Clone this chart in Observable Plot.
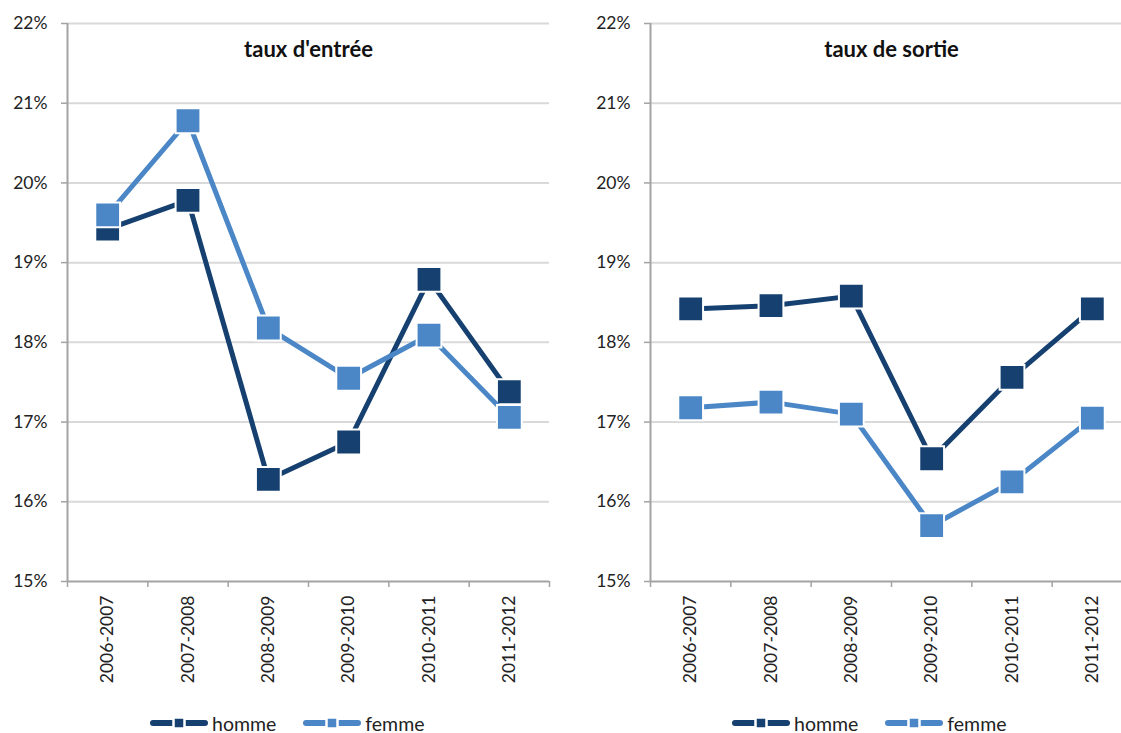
<!DOCTYPE html>
<html>
<head>
<meta charset="utf-8">
<script src="https://cdn.jsdelivr.net/npm/d3@7"></script>
<script src="https://cdn.jsdelivr.net/npm/@observablehq/plot@0.6"></script>
<style>
  body { margin: 0; overflow: hidden; background: #fff; font-family: Lato, "Open Sans", sans-serif; }
  #wrap { position: relative; width: 1121px; height: 733px; overflow: hidden; }
  .panel { position: absolute; top: 0; }
  .legend { position: absolute; top: 711px; height: 24px; display: flex; align-items: center; font-size: 19.5px; color: #222; }
  .legend .item { display: flex; align-items: center; margin-right: 27px; }
  .legend svg { display: block; margin-right: 4px; }
</style>
</head>
<body>
<div id="wrap"></div>
<script>
// School years on the x axis
const periods = ["2006-2007", "2007-2008", "2008-2009", "2009-2010", "2010-2011", "2011-2012"];

// Entry rates (%)
const entreeHomme = [19.42, 19.78, 16.28, 16.75, 18.79, 17.38];
const entreeFemme = [19.60, 20.78, 18.18, 17.55, 18.09, 17.06];

// Exit rates (%)
const sortieHomme = [18.42, 18.46, 18.58, 16.54, 17.56, 18.42];
const sortieFemme = [17.18, 17.25, 17.10, 15.70, 16.25, 17.05];

const yTicks = [15, 16, 17, 18, 19, 20, 21, 22];
const seriesNames = ["homme", "femme"];
const seriesColors = ["#16406f", "#4b87c6"];

const axisGray = "#a3a3a3";
const gridGray = "#d9d9d9";

function rows(values, serie) {
  return values.map((v, i) => ({period: periods[i], pos: i + 0.5, value: v, serie}));
}

function panel(title, homme, femme) {
  const h = rows(homme, seriesNames[0]);
  const f = rows(femme, seriesNames[1]);
  const centers = periods.map((p, i) => i + 0.5);
  const bounds = d3.range(periods.length + 1);
  return Plot.plot({
    width: 560,
    height: 700,
    marginLeft: 67,
    marginRight: 11,
    marginTop: 23,
    marginBottom: 119,
    style: {fontFamily: "Lato, 'Open Sans', sans-serif", fontSize: "17.5px", color: "#222", background: "transparent", overflow: "visible"},
    x: {domain: [0, periods.length], axis: null},
    y: {domain: [15, 22], axis: null},
    marks: [
      Plot.gridY(yTicks.slice(1), {stroke: gridGray, strokeOpacity: 1, strokeWidth: 2}),
      Plot.axisY(yTicks, {label: null, tickFormat: d => d + "%", tickSize: 6, tickPadding: 14, stroke: axisGray, strokeWidth: 1.5, fill: "#222"}),
      Plot.ruleX([0], {stroke: axisGray, strokeWidth: 2}),
      Plot.ruleY([15], {stroke: axisGray, strokeWidth: 2}),
      Plot.axisX(bounds, {label: null, tickFormat: () => "", tickSize: 6, stroke: axisGray, strokeWidth: 1.5}),
      Plot.axisX(centers, {label: null, tickFormat: d => periods[Math.floor(d)], tickSize: 0, tickPadding: 14, tickRotate: -90, fill: "#222"}),
      Plot.text([title], {frameAnchor: "top", dy: 18, fontWeight: "bold", fontSize: 22, fill: "#111"}),
      Plot.line(h, {x: "pos", y: "value", stroke: seriesColors[0], strokeWidth: 5}),
      Plot.dot(h, {x: "pos", y: "value", symbol: "square", r: 14, fill: seriesColors[0], stroke: "white", strokeWidth: 2}),
      Plot.line(f, {x: "pos", y: "value", stroke: seriesColors[1], strokeWidth: 5}),
      Plot.dot(f, {x: "pos", y: "value", symbol: "square", r: 14, fill: seriesColors[1], stroke: "white", strokeWidth: 2})
    ]
  });
}

function legend(left) {
  const div = document.createElement("div");
  div.className = "legend";
  div.style.left = left + "px";
  seriesNames.forEach((name, i) => {
    const c = seriesColors[i];
    const item = document.createElement("div");
    item.className = "item";
    item.innerHTML =
      `<svg width="58" height="14" viewBox="0 0 58 14">
         <line x1="3" y1="7" x2="55" y2="7" stroke="${c}" stroke-width="6" stroke-linecap="round"/>
         <rect x="23.5" y="1.5" width="11" height="11" fill="${c}" stroke="white" stroke-width="2.5"/>
       </svg><span>${name}</span>`;
    div.appendChild(item);
  });
  return div;
}

const wrap = document.getElementById("wrap");

const left = panel("taux d'entrée", entreeHomme, entreeFemme);
left.classList.add("panel");
left.style.left = "0px";
wrap.appendChild(left);

const right = panel("taux de sortie", sortieHomme, sortieFemme);
right.classList.add("panel");
right.style.left = "583px";
wrap.appendChild(right);

wrap.appendChild(legend(150));
wrap.appendChild(legend(732));
</script>
</body>
</html>
